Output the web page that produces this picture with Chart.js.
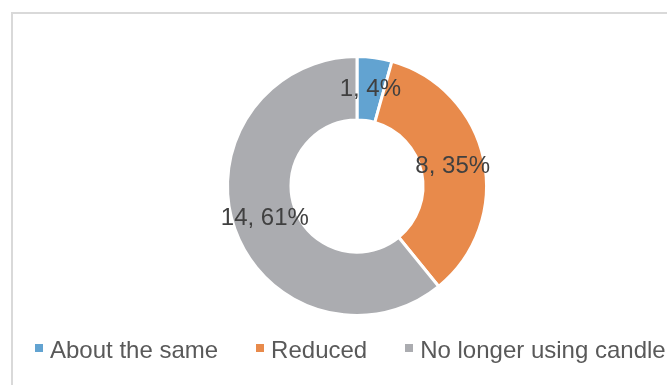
<!DOCTYPE html>
<html>
<head>
<meta charset="utf-8">
<script src="https://cdn.jsdelivr.net/npm/chart.js@4.4.1/dist/chart.umd.min.js"></script>
<style>
  html, body { margin: 0; padding: 0; background: #fff; overflow: hidden; }
  #wrap { position: relative; width: 667px; height: 385px; overflow: hidden; }
  #frame { position: absolute; left: 11px; top: 12px; width: 700px; height: 400px;
           border: 2px solid #d9d9d9; box-sizing: border-box; }
  #myChart { position: absolute; left: 0; top: 0; }
  #legend { position: absolute; left: 35px; top: 338px; display: flex; align-items: center;
            white-space: nowrap; font: 24px/24px "Liberation Sans", Arial, sans-serif; color: #595959; }
  #legend .item { display: flex; align-items: center; margin-right: 38px; }
  #legend .box { width: 8px; height: 8px; margin-right: 7px; position: relative; top: -2px; }
</style>
</head>
<body>
<div id="wrap">
  <div id="frame"></div>
  <canvas id="myChart" width="667" height="385"></canvas>
  <div id="legend"></div>
</div>
<script>
// donnees du graphique
const labels = ['About the same', 'Reduced', 'No longer using candle']
const counts = [1, 8, 14]
const percents = [4, 35, 61]
const colors = ['#62a3d1', '#e88a4b', '#abacb0']

// etiquettes "valeur, pourcentage" au centre de chaque part
const sliceLabels = {
    id: 'sliceLabels',
    afterDatasetsDraw(chart) {
        const ctx = chart.ctx
        const meta = chart.getDatasetMeta(0)
        ctx.save()
        ctx.font = '24px "Liberation Sans", Arial, sans-serif'
        ctx.fillStyle = '#404040'
        ctx.textAlign = 'center'
        ctx.textBaseline = 'middle'
        meta.data.forEach((arc, i) => {
            const pos = arc.tooltipPosition()
            ctx.fillText(counts[i] + ', ' + percents[i] + '%', pos.x, pos.y)
        })
        ctx.restore()
    }
}

let ctx = document.getElementById('myChart')
let myChart = new Chart(ctx, {
    type: 'doughnut',
    data: {
        labels: labels,
        datasets: [{
            data: counts,
            backgroundColor: colors,
            borderColor: '#ffffff',
            borderWidth: 3,
            hoverOffset: 0
        }]
    },
    options: {
        responsive: false,
        animation: false,
        cutout: '51%',
        layout: { padding: { left: 47, top: 55, right: 0, bottom: 68 } },
        plugins: {
            tooltip: { enabled: false },
            legend: { display: false }
        }
    },
    plugins: [sliceLabels]
})

// legende html (depasse a droite comme dans l'original)
const legendDiv = document.getElementById('legend')
myChart.legend.legendItems = myChart.options.plugins.legend.labels.generateLabels(myChart)
myChart.legend.legendItems.forEach(item => {
    const el = document.createElement('div')
    el.className = 'item'
    const box = document.createElement('span')
    box.className = 'box'
    box.style.background = item.fillStyle
    el.appendChild(box)
    el.appendChild(document.createTextNode(item.text))
    legendDiv.appendChild(el)
})
</script>
</body>
</html>
